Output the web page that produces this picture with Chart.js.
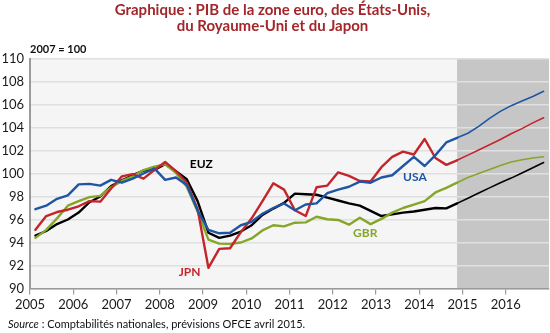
<!DOCTYPE html>
<html lang="fr">
<head>
<meta charset="utf-8">
<script src="https://cdn.jsdelivr.net/npm/chart.js@4.4.1/dist/chart.umd.min.js"></script>
<style>
  html, body { margin: 0; padding: 0; background: #fff; }
  #wrap { position: relative; width: 550px; height: 333px; font-family: Lato, "Open Sans", sans-serif; color: #111; }
  #title { position: absolute; left: 0; top: 1px; width: 545px; text-align: center; color: #a3262a; font-weight: bold; font-size: 15px; line-height: 16px; }
  #unit { position: absolute; left: 30px; top: 42px; font-size: 11px; font-weight: bold; }
  #source { position: absolute; left: 8px; top: 317px; font-size: 11px; }
  #chartBox { position: absolute; left: 0; top: 0; width: 550px; height: 333px; }
</style>
</head>
<body>
<div id="wrap">
  <div id="chartBox"><canvas id="pib"></canvas></div>
  <div id="title">Graphique : PIB de la zone euro, des États-Unis,<br>du Royaume-Uni et du Japon</div>
  <div id="unit">2007 = 100</div>
  <div id="source"><i>Source</i> : Comptabilités nationales, prévisions OFCE avril 2015.</div>
</div>
<script>
// Quarterly GDP, index 2007 = 100 (2005T1 .. 2016T4)
const years = [2005, 2006, 2007, 2008, 2009, 2010, 2011, 2012, 2013, 2014, 2015, 2016];
const quarters = [];
years.forEach(y => { for (let q = 1; q <= 4; q++) quarters.push(y + 'T' + q); });

const usa = [96.9, 97.2, 97.8, 98.1, 99.05, 99.1, 98.95, 99.45, 99.2, 99.55, 100.0, 100.45,
             99.45, 99.65, 99.0, 96.8, 95.1, 94.8, 94.85, 95.5, 95.8, 96.5, 97.0, 97.4,
             96.8, 97.3, 97.4, 98.3, 98.6, 98.85, 99.3, 99.2, 99.65, 99.85, 100.65, 101.45,
             100.65, 101.6, 102.7, 103.1, 103.5, 104.1, 104.8, 105.4, 105.9, 106.3, 106.7, 107.15];
const jpn = [95.1, 96.3, 96.65, 96.85, 97.15, 97.6, 97.55, 98.7, 99.75, 99.95, 99.55, 100.3,
             101.0, 100.2, 99.2, 96.9, 91.8, 93.45, 93.5, 94.9, 96.1, 97.6, 99.15, 98.6,
             96.8, 96.3, 98.8, 98.95, 100.1, 99.8, 99.35, 99.3, 100.55, 101.45, 101.9, 101.65,
             103.0, 101.35, 100.75, 101.15, 101.6, 102.05, 102.5, 102.95, 103.45, 103.9, 104.4, 104.85];
const euz = [94.6, 95.0, 95.6, 96.0, 96.6, 97.5, 98.0, 98.9, 99.4, 99.85, 100.25, 100.3,
             100.8, 100.2, 99.5, 97.6, 94.85, 94.4, 94.6, 94.95, 95.5, 96.4, 96.95, 97.45,
             98.25, 98.2, 98.15, 97.9, 97.65, 97.4, 97.2, 96.75, 96.3, 96.45, 96.6, 96.7,
             96.85, 97.0, 96.97, 97.4, 97.85, 98.3, 98.75, 99.2, 99.6, 100.05, 100.5, 100.95];
const gbr = [94.4, 95.1, 96.1, 97.2, 97.6, 97.95, 98.05, 98.8, 99.35, 99.75, 100.3, 100.6,
             100.8, 100.05, 98.85, 96.7, 94.25, 93.9, 93.88, 94.0, 94.35, 95.05, 95.5, 95.4,
             95.72, 95.75, 96.24, 96.02, 95.96, 95.55, 96.15, 95.6, 96.05, 96.6, 97.0, 97.3,
             97.6, 98.35, 98.75, 99.2, 99.65, 100.0, 100.35, 100.7, 101.0, 101.2, 101.35, 101.45];

const forecastFrom = '2014T4';
const yTicks = [90, 92, 94, 96, 98, 100, 102, 104, 106, 108, 110];

// "2005T3" -> 2005.625 (middle of the quarter)
function quarterPos(label) {
    const [y, q] = label.split('T').map(Number);
    return y + (q - 0.5) / 4;
}
const forecastX = quarterPos(forecastFrom);

function series(values) {
    return quarters.map((q, i) => ({ x: quarterPos(q), y: values[i] }));
}

function lineSet(label, values, color) {
    return {
        label: label,
        data: series(values),
        borderColor: color,
        borderWidth: 2.4,
        pointRadius: 0,
        tension: 0,
        borderJoinStyle: 'round',
        borderCapStyle: 'round',
        segment: {
            borderWidth: ctx => ctx.p0.parsed.x >= forecastX - 0.01 ? 1.6 : 2.4
        }
    };
}

// Series names written next to the curves
const seriesLabels = [
    { text: 'EUZ', x: 2008.96, y: 100.85, color: '#000000' },
    { text: 'USA', x: 2013.9, y: 99.7, color: '#1f56a3' },
    { text: 'JPN', x: 2008.69, y: 91.45, color: '#c4252b' },
    { text: 'GBR', x: 2012.75, y: 94.85, color: '#86a62a' }
];

const backgroundPlugin = {
    id: 'zones',
    beforeDraw(chart) {
        const { ctx, chartArea: a, scales: { x } } = chart;
        ctx.save();
        ctx.fillStyle = '#f5f5f5';
        ctx.fillRect(a.left, a.top, a.width, a.height);
        const xf = x.getPixelForValue(forecastX);
        ctx.fillStyle = '#c6c6c6';
        ctx.fillRect(xf, a.top, a.right - xf, a.height);
        ctx.restore();
    }
};

const labelPlugin = {
    id: 'seriesLabels',
    afterDatasetsDraw(chart) {
        const { ctx, scales: { x, y } } = chart;
        ctx.save();
        ctx.font = 'bold 12px Lato, "Open Sans", sans-serif';
        ctx.textAlign = 'center';
        ctx.textBaseline = 'middle';
        seriesLabels.forEach(l => {
            ctx.fillStyle = l.color;
            ctx.fillText(l.text, x.getPixelForValue(l.x), y.getPixelForValue(l.y));
        });
        ctx.restore();
    }
};

Chart.defaults.font.family = 'Lato, "Open Sans", sans-serif';
Chart.defaults.color = '#1a1a1a';

new Chart(document.getElementById('pib'), {
    type: 'line',
    data: {
        datasets: [
            lineSet('USA', usa, '#1f56a3'),
            lineSet('JPN', jpn, '#c4252b'),
            lineSet('GBR', gbr, '#86a62a'),
            lineSet('EUZ', euz, '#000000')
        ]
    },
    options: {
        responsive: true,
        maintainAspectRatio: false,
        animation: false,
        layout: { padding: { top: 58.5, right: 1, left: 0, bottom: 0 } },
        plugins: {
            legend: { display: false },
            tooltip: { enabled: false }
        },
        scales: {
            x: {
                type: 'linear',
                min: 2005,
                max: 2017,
                afterFit: s => { s.height = 44.5; },
                ticks: {
                    stepSize: 1,
                    autoSkip: false,
                    maxRotation: 0,
                    padding: 3,
                    font: { size: 13 },
                    callback: v => v < 2017 ? String(v) : null
                },
                grid: { drawOnChartArea: false, drawTicks: true, tickLength: 6, color: '#9a9a9a', lineWidth: 1.2 },
                border: { display: true, color: '#9a9a9a', width: 1.5 }
            },
            y: {
                min: 90,
                max: 110,
                afterFit: s => { s.width = 30; },
                afterBuildTicks: s => { s.ticks = yTicks.map(v => ({ value: v })); },
                ticks: { padding: 6, font: { size: 13 } },
                grid: { color: '#e0e0e0', lineWidth: 1.5, drawTicks: false },
                border: { display: true, color: '#9a9a9a', width: 2 }
            }
        }
    },
    plugins: [backgroundPlugin, labelPlugin]
});
</script>
</body>
</html>
